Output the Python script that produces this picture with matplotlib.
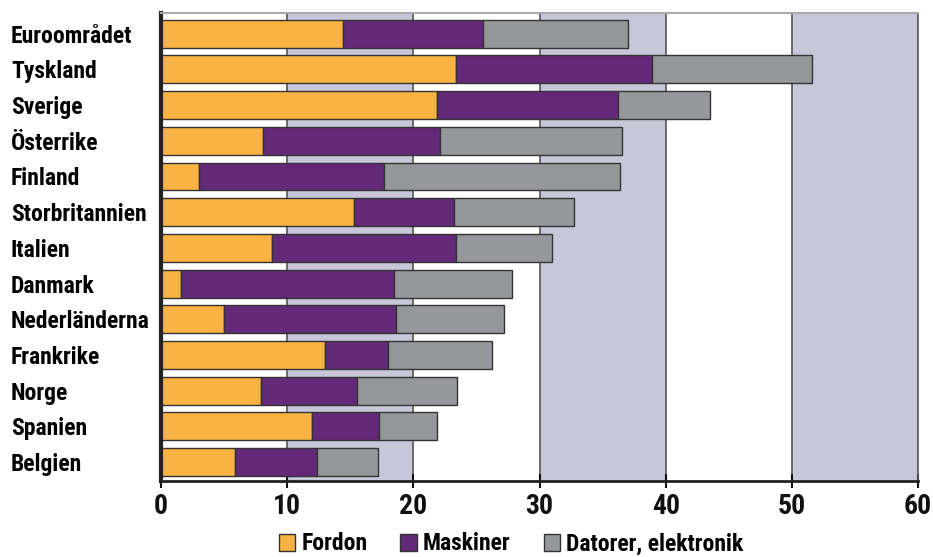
import numpy as np
import matplotlib.pyplot as plt
from matplotlib.patches import Patch

# Data
countries = ["Euroområdet", "Tyskland", "Sverige", "Österrike", "Finland",
             "Storbritannien", "Italien", "Danmark", "Nederländerna",
             "Frankrike", "Norge", "Spanien", "Belgien"]
fordon = [14.4, 23.4, 21.9, 8.1, 3.0, 15.3, 8.8, 1.6, 5.0, 13.0, 7.9, 12.0, 5.9]
maskiner = [11.1, 15.5, 14.3, 14.0, 14.7, 7.9, 14.6, 16.9, 13.6, 5.0, 7.6, 5.3, 6.5]
datorer = [11.5, 12.7, 7.3, 14.4, 18.7, 9.5, 7.6, 9.3, 8.6, 8.2, 8.0, 4.6, 4.8]
series_names = ["Fordon", "Maskiner", "Datorer, elektronik"]
colors = ["#F9B342", "#642978", "#96979A"]

font = ["Roboto Condensed", "DejaVu Sans"]

fig = plt.figure(figsize=(9.33, 5.57), dpi=100)
ax = fig.add_axes([161 / 933, 1 - 481 / 557, 757 / 933, 468 / 557])

# Skuggade band
for x0 in (10, 30, 50):
    ax.axvspan(x0, x0 + 10, color="#C8C7D9", zorder=0, lw=0)
for xv in range(10, 60, 10):
    ax.axvline(xv, color="#555555", lw=1.2, zorder=0.5)

y = np.arange(len(countries))
left = np.zeros(len(countries))
for vals, name, col in zip([fordon, maskiner, datorer], series_names, colors):
    ax.barh(y, vals, left=left, height=0.78, color=col, edgecolor="#333333",
            linewidth=1.0, label=name, zorder=2)
    left = left + np.array(vals)

ax.set_xlim(0, 60)
ax.set_ylim(len(countries) - 0.5 + 0.03, -0.5 - 0.08)
ax.set_xticks(range(0, 61, 10))
ax.set_xticklabels([str(v) for v in range(0, 61, 10)], fontsize=20,
                   fontweight="bold", family=font)
ax.set_yticks(y)
ax.set_yticklabels(countries, fontsize=17, fontweight="bold", family=font,
                   ha="left")
ax.tick_params(axis="y", length=0, pad=108)
ax.tick_params(axis="x", direction="inout", length=10, width=1.5, pad=4,
               colors="#111111")

ax.spines["left"].set_linewidth(3)
ax.spines["left"].set_color("#222222")
ax.spines["bottom"].set_linewidth(2)
ax.spines["bottom"].set_color("#222222")
ax.spines["top"].set_color("#AAAAAA")
ax.spines["top"].set_linewidth(1.5)
ax.spines["right"].set_color("#555555")
ax.spines["right"].set_linewidth(1.2)

handles = [Patch(facecolor=c, edgecolor="#333333", label=n)
           for c, n in zip(colors, series_names)]
fig.legend(handles=handles, loc="center", bbox_to_anchor=(511 / 933, 1 - 544 / 557),
           ncol=3, frameon=False, handlelength=0.7, handleheight=0.7,
           handletextpad=0.25, columnspacing=1.4,
           prop={"family": font, "weight": "bold", "size": 17})

fig.savefig("out.png", dpi=100)
